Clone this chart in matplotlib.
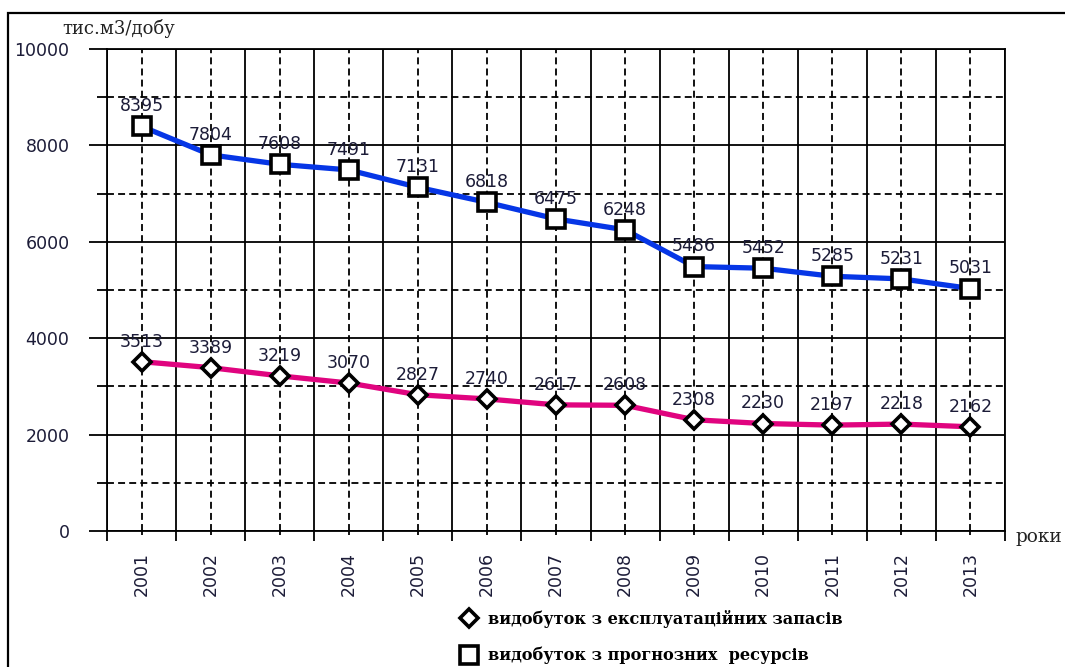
import matplotlib.pyplot as plt
from matplotlib.lines import Line2D
from matplotlib.patches import Rectangle
from matplotlib.ticker import MultipleLocator, FixedLocator

# data
years = ["2001", "2002", "2003", "2004", "2005", "2006", "2007",
         "2008", "2009", "2010", "2011", "2012", "2013"]
prognoz = [8395, 7804, 7608, 7491, 7131, 6818, 6475, 6248, 5486, 5452, 5285, 5231, 5031]
ekspl = [3513, 3389, 3219, 3070, 2827, 2740, 2617, 2608, 2308, 2230, 2197, 2218, 2162]
legend_labels = ["видобуток з експлуатаційних запасів", "видобуток з прогнозних  ресурсів"]

W, H = 1065, 667
BLUE = "#0636e6"
PINK = "#e0047f"
TXT = "#1c1c38"

plt.rcParams["lines.scale_dashes"] = False
fig = plt.figure(figsize=(W / 100, H / 100), dpi=100)
ax = fig.add_axes([107 / W, 1 - 531 / H, 898 / W, 482 / H])

x = list(range(len(years)))
ax.plot(x, prognoz, color=BLUE, lw=3.8, marker="s", ms=13, mfc="white",
        mec="black", mew=2.6, zorder=4, clip_on=False)
ax.plot(x, ekspl, color=PINK, lw=3.8, marker="D", ms=9, mfc="white",
        mec="black", mew=2.6, zorder=4, clip_on=False)

for series in (prognoz, ekspl):
    for xi, v in zip(x, series):
        ax.annotate(str(v), (xi, v), xytext=(0, 14.5), textcoords="offset points",
                    ha="center", va="center", fontsize=12.5, color=TXT, zorder=5)

ax.set_xlim(-0.5, len(years) - 0.5)
ax.set_ylim(0, 10000)
ax.yaxis.set_major_locator(MultipleLocator(2000))
ax.yaxis.set_minor_locator(FixedLocator(list(range(1000, 10000, 2000))))
ax.set_xticks([i - 0.5 for i in range(len(years) + 1)])
ax.set_xticklabels([])
ax.set_xticks(x, minor=True)
ax.set_xticklabels(years, minor=True, rotation=90)

ax.set_axisbelow(True)
ax.grid(which="major", color="black", lw=1.3, ls="-")
ax.grid(which="minor", color="black", lw=1.3, ls=(0, (5, 3)))
for s in ax.spines.values():
    s.set_linewidth(1.3)
    s.set_color("black")

ax.tick_params(axis="y", which="major", length=13, width=1.3, pad=14,
               labelsize=12.5, labelcolor=TXT)
ax.tick_params(axis="y", which="minor", length=7, width=1.3)
ax.tick_params(axis="x", which="major", length=7, width=1.3)
ax.tick_params(axis="x", which="minor", length=3, width=1.3, pad=12,
               labelsize=12.5, labelcolor=TXT)

fig.text(62 / W, 1 - 28 / H, "тис.м3/добу", family="DejaVu Serif", fontsize=13,
         va="center", ha="left", color="#222")
fig.text(1015 / W, 1 - 537 / H, "роки", family="DejaVu Serif", fontsize=13.3,
         va="center", ha="left", color="#222")

h1 = Line2D([], [], ls="none", marker="D", ms=9, mfc="white", mec="black", mew=2.6)
h2 = Line2D([], [], ls="none", marker="s", ms=13, mfc="white", mec="black", mew=2.6)
fig.legend([h1, h2], legend_labels, loc="upper left",
           bbox_to_anchor=(459 / W, 1 - 610 / H), frameon=False,
           prop=dict(family="DejaVu Serif", weight="bold", size=11.6),
           handlelength=1.2, handletextpad=0.6, labelspacing=1.17,
           borderpad=0, borderaxespad=0)

fig.add_artist(Rectangle((8 / W, -0.1), 1.2, (1 - 13 / H) + 0.1,
                         transform=fig.transFigure, fill=False, lw=1.6, ec="black"))

fig.savefig("out.png", dpi=100)
